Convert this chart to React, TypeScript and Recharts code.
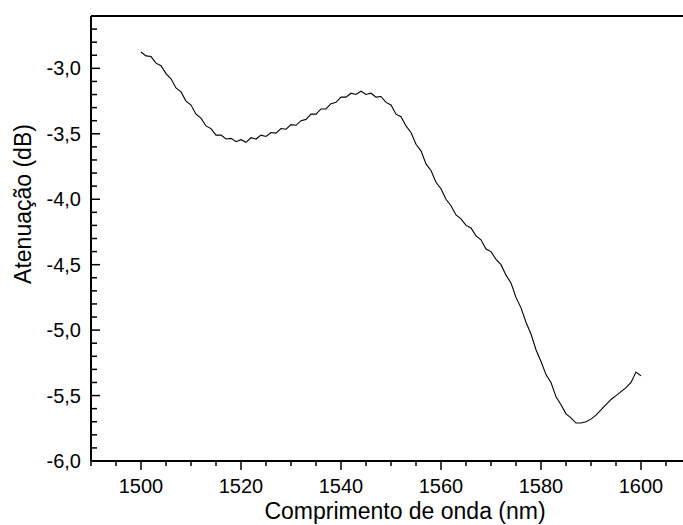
import React from "react";
import { LineChart, Line, XAxis, YAxis, ReferenceLine } from "recharts";

const wavelength = [
  1500, 1501, 1502, 1503, 1504, 1505, 1506, 1507, 1508, 1509,
  1510, 1511, 1512, 1513, 1514, 1515, 1516, 1517, 1518, 1519,
  1520, 1521, 1522, 1523, 1524, 1525, 1526, 1527, 1528, 1529,
  1530, 1531, 1532, 1533, 1534, 1535, 1536, 1537, 1538, 1539,
  1540, 1541, 1542, 1543, 1544, 1545, 1546, 1547, 1548, 1549,
  1550, 1551, 1552, 1553, 1554, 1555, 1556, 1557, 1558, 1559,
  1560, 1561, 1562, 1563, 1564, 1565, 1566, 1567, 1568, 1569,
  1570, 1571, 1572, 1573, 1574, 1575, 1576, 1577, 1578, 1579,
  1580, 1581, 1582, 1583, 1584, 1585, 1586, 1587, 1588, 1589,
  1590, 1591, 1592, 1593, 1594, 1595, 1596, 1597, 1598, 1599,
  1600,
];

const attenuation = [
  -2.875, -2.905, -2.91, -2.96, -2.98, -3.04, -3.08, -3.15, -3.18, -3.25,
  -3.28, -3.35, -3.38, -3.44, -3.46, -3.51, -3.51, -3.54, -3.535, -3.56,
  -3.545, -3.565, -3.53, -3.54, -3.51, -3.52, -3.49, -3.495, -3.46, -3.465,
  -3.43, -3.435, -3.4, -3.39, -3.35, -3.35, -3.31, -3.31, -3.27, -3.26,
  -3.22, -3.22, -3.19, -3.2, -3.175, -3.2, -3.19, -3.22, -3.215, -3.26,
  -3.28, -3.35, -3.37, -3.44, -3.49, -3.58, -3.63, -3.73, -3.78, -3.87,
  -3.92, -4.0, -4.05, -4.12, -4.15, -4.2, -4.22, -4.28, -4.31, -4.38,
  -4.4, -4.46, -4.5, -4.58, -4.64, -4.75, -4.83, -4.94, -5.03, -5.15,
  -5.24, -5.34, -5.4, -5.51, -5.57, -5.64, -5.67, -5.71, -5.71, -5.7,
  -5.68, -5.65, -5.61, -5.57, -5.53, -5.5, -5.47, -5.44, -5.4, -5.32,
  -5.35,
];

const xTicks = [
  1490, 1495, 1500, 1505, 1510, 1515, 1520, 1525, 1530, 1535, 1540, 1545, 1550,
  1555, 1560, 1565, 1570, 1575, 1580, 1585, 1590, 1595, 1600, 1605, 1610,
];

const yTicks = [
  -6.0, -5.9, -5.8, -5.7, -5.6, -5.5, -5.4, -5.3, -5.2, -5.1, -5.0, -4.9, -4.8,
  -4.7, -4.6, -4.5, -4.4, -4.3, -4.2, -4.1, -4.0, -3.9, -3.8, -3.7, -3.6, -3.5,
  -3.4, -3.3, -3.2, -3.1, -3.0, -2.9, -2.8, -2.7, -2.6,
];

const data = wavelength.map((w, i) => ({ w, a: attenuation[i] }));

const font = "'Liberation Sans', Arial, sans-serif";

const isMajorY = (v: number) => Math.abs(v * 2 - Math.round(v * 2)) < 1e-6;

const YTick = (props: any) => {
  const { x, y, payload } = props;
  const v = payload.value;
  const major = isMajorY(v);
  return (
    <g>
      <line x1={x} x2={x + (major ? 9 : 6)} y1={y} y2={y} stroke="#000" strokeWidth={1.5} />
      {major && v > -6.05 && v < -2.65 ? (
        <text x={x - 10} y={y + 7} textAnchor="end" fontSize={20} fontFamily={font} fill="#000">
          {v.toFixed(1).replace(".", ",")}
        </text>
      ) : null}
    </g>
  );
};

const XTick = (props: any) => {
  const { x, y, payload } = props;
  const v = payload.value;
  const major = v % 20 === 0;
  return (
    <g>
      <line x1={x} x2={x} y1={y} y2={y + (major ? 9 : 5)} stroke="#000" strokeWidth={1.5} />
      {major ? (
        <text x={x} y={y + 32} textAnchor="middle" fontSize={20} fontFamily={font} fill="#000">
          {v}
        </text>
      ) : null}
    </g>
  );
};

export default function App() {
  return (
    <div
      style={{
        position: "absolute",
        top: 0,
        left: 0,
        width: 683,
        height: 525,
        overflow: "hidden",
        background: "#fff",
      }}
    >
      <LineChart
        width={700}
        height={525}
        data={data}
        margin={{ top: 16, right: 9, bottom: 0, left: 0 }}
      >
        <XAxis
          dataKey="w"
          type="number"
          domain={[1490, 1610]}
          ticks={xTicks}
          interval={0}
          allowDataOverflow
          height={64}
          tickSize={0}
          tickMargin={0}
          tickLine={false}
          axisLine={{ stroke: "#000", strokeWidth: 2 }}
          tick={(p: any) => <XTick {...p} />}
        />
        <YAxis
          type="number"
          domain={[-6.0, -2.6]}
          ticks={yTicks}
          interval={0}
          allowDataOverflow
          width={91}
          tickSize={0}
          tickMargin={0}
          tickLine={false}
          axisLine={{ stroke: "#000", strokeWidth: 2 }}
          tick={(p: any) => <YTick {...p} />}
        />
        <ReferenceLine y={-2.6} stroke="#000" strokeWidth={2} />
        <ReferenceLine x={1610} stroke="#000" strokeWidth={2} />
        <Line
          dataKey="a"
          type="linear"
          stroke="#000"
          strokeWidth={1.1}
          dot={false}
          isAnimationActive={false}
        />
      </LineChart>
      <svg
        width={683}
        height={525}
        style={{ position: "absolute", top: 0, left: 0, pointerEvents: "none" }}
      >
        <text
          x={405}
          y={519}
          textAnchor="middle"
          fontSize={23}
          fontFamily={font}
          fill="#000"
        >
          Comprimento de onda (nm)
        </text>
        <text
          transform="translate(31,204) rotate(-90)"
          textAnchor="middle"
          fontSize={23}
          fontFamily={font}
          fill="#000"
        >
          Atenuação (dB)
        </text>
      </svg>
    </div>
  );
}
